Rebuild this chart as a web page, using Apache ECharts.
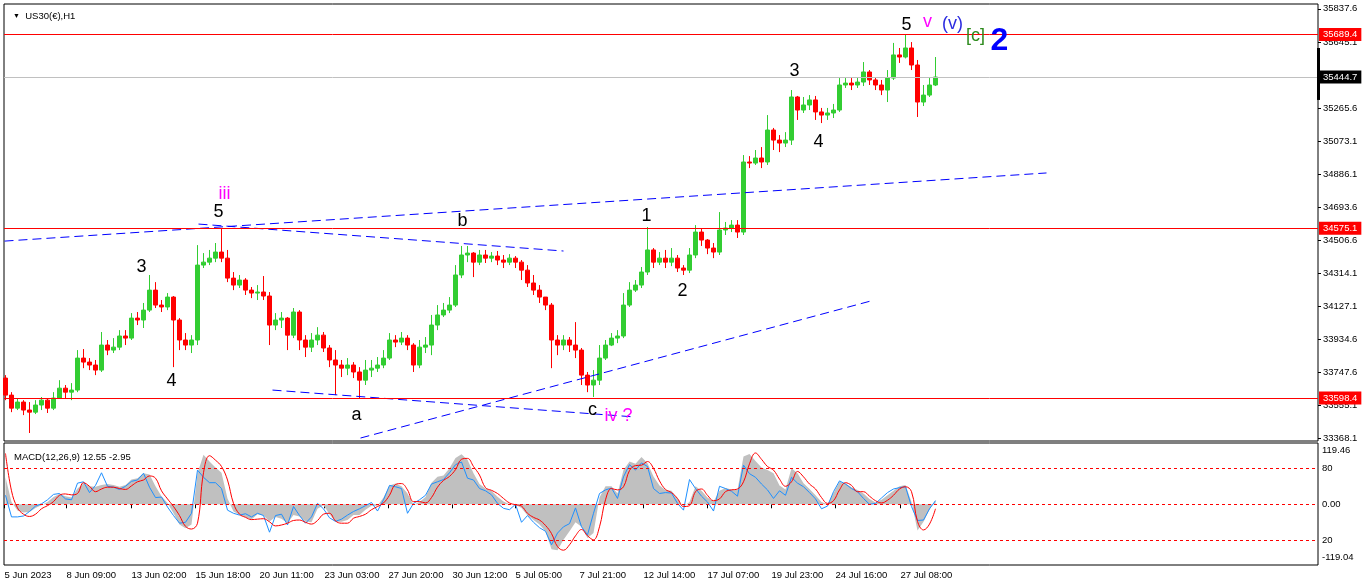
<!DOCTYPE html>
<html>
<head>
<meta charset="utf-8">
<script src="https://cdn.jsdelivr.net/npm/echarts@6/dist/echarts.min.js"></script>
<style>
  html, body { margin: 0; padding: 0; background: #fff; }
  #main { width: 1366px; height: 588px; }
</style>
</head>
<body>
<div id="main"></div>
<script>
var opens = [
  33713, 33615, 33540, 33575, 33529, 33517, 33558, 33586, 33540, 33598,
  33655, 33632, 33644, 33828, 33805, 33788, 33759, 33903, 33874, 33891,
  33955, 33943, 34058, 34047, 34104, 34219, 34133, 34122, 34179, 34047,
  33932, 33903, 33932, 34363, 34380, 34403, 34438, 34403, 34288, 34248,
  34277, 34219, 34202, 34208, 34185, 34018, 34047, 34058, 33960, 34093,
  33932, 33891, 33932, 33960, 33886, 33817, 33788, 33770, 33788, 33748,
  33701, 33759, 33770, 33788, 33828, 33932, 33920, 33943, 33903, 33788,
  33891, 33903, 34018, 34076, 34104, 34133, 34306, 34421, 34432, 34380,
  34421, 34403, 34415, 34392, 34380, 34403, 34380, 34334, 34260, 34219,
  34179, 34133, 33932, 33903, 33932, 33903, 33874, 33730, 33673, 33701,
  33828, 33903, 33943, 33955, 34133, 34219, 34248, 34323, 34450, 34380,
  34403, 34380, 34403, 34346, 34334, 34421, 34553, 34507, 34461, 34438,
  34565, 34576, 34593, 34553, 34956, 34950, 34979, 34956, 35140, 35082,
  35065, 35082, 35330, 35255, 35284, 35313, 35244, 35226, 35238, 35255,
  35399, 35410, 35399, 35416, 35474, 35428, 35399, 35370, 35439, 35572,
  35560, 35612, 35514, 35301, 35341, 35399
];
var closes = [
  33615, 33540, 33575, 33529, 33517, 33558, 33586, 33540, 33598, 33655,
  33632, 33644, 33828, 33805, 33788, 33759, 33903, 33874, 33891, 33955,
  33943, 34058, 34047, 34104, 34219, 34133, 34122, 34179, 34047, 33932,
  33903, 33932, 34363, 34380, 34403, 34438, 34403, 34288, 34248, 34277,
  34219, 34202, 34208, 34185, 34018, 34047, 34058, 33960, 34093, 33932,
  33891, 33932, 33960, 33886, 33817, 33788, 33770, 33788, 33748, 33701,
  33759, 33770, 33788, 33828, 33932, 33920, 33943, 33903, 33788, 33891,
  33903, 34018, 34076, 34104, 34133, 34306, 34421, 34432, 34380, 34421,
  34403, 34415, 34392, 34380, 34403, 34380, 34334, 34260, 34219, 34179,
  34133, 33932, 33903, 33932, 33903, 33874, 33730, 33673, 33701, 33828,
  33903, 33943, 33955, 34133, 34219, 34248, 34323, 34450, 34380, 34403,
  34380, 34403, 34346, 34334, 34421, 34553, 34507, 34461, 34438, 34565,
  34576, 34593, 34553, 34956, 34950, 34979, 34956, 35140, 35082, 35065,
  35082, 35330, 35255, 35284, 35313, 35244, 35226, 35238, 35255, 35399,
  35410, 35399, 35416, 35474, 35428, 35399, 35370, 35439, 35572, 35560,
  35612, 35514, 35301, 35341, 35399, 35445
];
var lows = [
  33586, 33517, 33529, 33500, 33397, 33506, 33529, 33512, 33529, 33598,
  33598, 33586, 33632, 33770, 33759, 33730, 33748, 33845, 33857, 33874,
  33903, 33932, 34018, 34001, 34093, 34116, 34093, 34104, 33776, 33874,
  33874, 33857, 33903, 34346, 34363, 34380, 34380, 34265, 34219, 34231,
  34191, 34173, 34162, 34162, 33903, 33989, 34001, 33874, 33943, 33874,
  33834, 33863, 33903, 33863, 33776, 33615, 33719, 33730, 33713, 33598,
  33673, 33719, 33748, 33770, 33817, 33891, 33903, 33874, 33748, 33770,
  33857, 33845, 33989, 34064, 34087, 34122, 34288, 34380, 34294, 34363,
  34375, 34380, 34363, 34346, 34363, 34346, 34277, 34237, 34191, 34145,
  34104, 33770, 33845, 33874, 33863, 33828, 33673, 33632, 33604, 33673,
  33817, 33897, 33914, 33943, 34122, 34208, 34231, 34306, 34346, 34363,
  34346, 34357, 34323, 34306, 34317, 34403, 34473, 34426, 34403, 34421,
  34536, 34553, 34519, 34536, 34921, 34939, 34921, 34939, 35025, 35013,
  35042, 35054, 35198, 35238, 35255, 35198, 35180, 35198, 35209, 35244,
  35382, 35370, 35382, 35393, 35399, 35370, 35341, 35301, 35428, 35526,
  35552, 35485, 35215, 35278, 35330, 35393
];
var highs = [
  33730, 33632, 33598, 33586, 33575, 33586, 33604, 33598, 33632, 33701,
  33673, 33684, 33874, 33880, 33828, 33817, 33978, 33932, 33943, 33989,
  33989, 34087, 34093, 34145, 34306, 34265, 34162, 34202, 34185, 34058,
  33972, 33960, 34478, 34432, 34450, 34490, 34576, 34450, 34323, 34306,
  34288, 34237, 34248, 34300, 34208, 34087, 34093, 34064, 34116, 34104,
  33960, 33972, 34006, 33978, 33903, 33874, 33817, 33828, 33805, 33776,
  33817, 33817, 33834, 33874, 33972, 33960, 33978, 33960, 33914, 33932,
  33949, 34076, 34133, 34145, 34179, 34363, 34473, 34473, 34438, 34450,
  34450, 34438, 34444, 34421, 34426, 34415, 34392, 34363, 34306, 34248,
  34179, 34145, 33960, 33960, 33949, 34035, 33886, 33748, 33759, 33903,
  33932, 33972, 33989, 34202, 34265, 34277, 34352, 34582, 34461, 34438,
  34450, 34461, 34421, 34363, 34461, 34593, 34576, 34513, 34490, 34668,
  34611, 34622, 34622, 34996, 34990, 35025, 35042, 35226, 35152, 35111,
  35128, 35370, 35336, 35330, 35341, 35336, 35267, 35267, 35290, 35439,
  35439, 35439, 35445, 35531, 35485, 35445, 35428, 35485, 35641, 35612,
  35692, 35646, 35543, 35399, 35439, 35560
];

// MACD(12,26,9) panel, same sampling
var macdHist = [
  60, 5, -14, -18, -17, -8, -2, 5, 16, 23,
  18, 15, 35, 47, 40, 39, 43, 45, 43, 39,
  43, 55, 58, 69, 66, 40, 18, 3, -20, -45,
  -53, -45, 69, 110, 95, 82, 70, 13, -16, -23,
  -29, -34, -22, -25, -38, -28, -32, -42, -24, -27,
  -38, -40, -10, -2, -22, -39, -39, -35, -24, -24,
  -12, -3, -3, 15, 42, 46, 40, 24, -1, 5,
  16, 48, 61, 64, 80, 103, 111, 99, 69, 45,
  35, 30, 17, 6, 0, -1, -8, -25, -35, -45,
  -60, -100, -102, -79, -60, -40, -50, -75, -64, 15,
  40, 40, 24, 76, 95, 90, 105, 91, 62, 42,
  32, 30, 13, -5, 5, 40, 30, 15, 6, 30,
  36, 33, 32, 106, 112, 96, 82, 76, 69, 42,
  33, 80, 69, 47, 34, 20, 5, 0, 25, 50,
  46, 38, 32, 24, 12, 4, 10, 20, 30, 40,
  43, 5, -58, -39, -12, 10
];
var macdSignal = [
  113, 30, -8, -22, -27, -22, -10, -3, 6, 20,
  23, 21, 24, 48, 40, 28, 34, 38, 38, 35,
  33, 41, 50, 54, 63, 58, 30, 12, -5, -25,
  -49, -55, -42, 70, 108, 98, 84, 54, 2, -22,
  -29, -34, -33, -32, -39, -48, -46, -42, -36, -35,
  -40, -44, -36, -22, -20, -37, -42, -42, -31, -27,
  -22, -12, -5, 3, 20, 44, 46, 32, 6, 6,
  3, 15, 38, 53, 62, 77, 100, 102, 84, 65,
  37, 31, 24, 13, 3, -1, -4, -20, -29, -35,
  -47, -65, -94, -102, -90, -70, -56, -70, -79, -50,
  10, 35, 32, 39, 75, 86, 87, 95, 80, 52,
  33, 26, 13, -5, -3, 28, 34, 20, 8, 12,
  28, 32, 34, 50, 90, 114, 100, 84, 76, 56,
  40, 50, 73, 61, 45, 34, 15, 2, 8, 32,
  48, 42, 28, 28, 18, 8, 3, 9, 20, 34,
  39, 28, -38, -57, -44, -10
];
var macdFast = [
  20, -28, -28, -26, -16, -4, 1, 10, 22, 24,
  12, 10, 47, 50, 26, 42, 70, 40, 38, 33,
  40, 51, 54, 69, 38, 15, 16, -6, -25, -42,
  -40, -20, 76, 60, 48, 48, 35, -13, -20, -24,
  -21, -28, -20, -25, -62, -25, -22, -46, -5, -25,
  -42, -28, 2, -10, -30, -38, -33, -24, -16, -10,
  -3, 4, -15, 10, 42, 39, 35, -20, 2, 10,
  20, 45, 50, 55, 70, 88, 94, 58, 54, 35,
  30, 21, 2, -9, -12, 0, -40, -25, -40, -52,
  -60, -90, -64, -50, -43, -8, -50, -68, -20, 24,
  32, 36, 13, 61, 88, 76, 92, 84, 35, 24,
  26, 25, 2, -13, 55, 35, 18, 5, -15, 40,
  35, 29, 18, 87, 68, 60, 45, 32, 13, 30,
  20, 60, 47, 39, 26, 12, -10, -4, 28, 52,
  45, 35, 28, 13, 0, 2, 14, 26, 34, 37,
  39, -5, -36, -35, -10, 8
];

var priceTicks = [35837.6, 35645.1, 35265.6, 35073.1, 34886.1, 34693.6, 34506.6,
  34314.1, 34127.1, 33934.6, 33747.6, 33555.1, 33368.1];
var levels = [35689.4, 34575.1, 33598.4];
var lastPrice = 35444.7;
var scaleBarRange = [35313, 35612];
var macdTickValues = [119.46, 80, 0, -80, -119.04];
var macdTickTexts = ['119.46', '80', '0.00', '20', '-119.04'];
var macdLevels = [80, 0, -80];

// hourly bar index of each time label
var dateBars = [0, 62, 127, 191, 255, 320, 384, 448, 511, 575, 639, 703, 767, 831, 896];
var dateLabels = ['5 Jun 2023', '8 Jun 09:00', '13 Jun 02:00', '15 Jun 18:00', '20 Jun 11:00',
  '23 Jun 03:00', '27 Jun 20:00', '30 Jun 12:00', '5 Jul 05:00', '7 Jul 21:00',
  '12 Jul 14:00', '17 Jul 07:00', '19 Jul 23:00', '24 Jul 16:00', '27 Jul 08:00'];

// wave counts: text, hourly bar, price, degree
var waves = [
  ['iii', 220, 34772, 'minor'],
  ['5', 214, 34670, 'minute'],
  ['3', 137, 34353, 'minute'],
  ['4', 167, 33696, 'minute'],
  ['a', 352, 33498, 'minute'],
  ['b', 458, 34616, 'minute'],
  ['c', 588, 33531, 'minute'],
  ['iv ?', 614, 33496, 'minor'],
  ['1', 642, 34647, 'minute'],
  ['2', 678, 34215, 'minute'],
  ['3', 790, 35481, 'minute'],
  ['4', 814, 35073, 'minute'],
  ['5', 902, 35746, 'minute'],
  ['v', 923, 35763, 'minor'],
  ['(v)', 948, 35750, 'intermediate'],
  ['[c]', 971, 35681, 'primary'],
  ['2', 995, 35653, 'cycle']
];

// dashed channel lines: bar0, price0, bar1, price1
var trendLines = [
  [0, 34501, 1042, 34893],
  [194, 34599, 559, 34444],
  [268, 33644, 631, 33489],
  [356, 33368, 866, 34156]
];

var FONT = '"Liberation Sans", Arial, sans-serif';
var BARS = 1314;
var STEP = 6;

var cats = [];
for (var i = 0; i < BARS; i++) cats.push(String(i));
function barOf(k) { return k * STEP + 1; }
function pairs(arr) { return arr.map(function (v, k) { return [barOf(k), v]; }); }

var candleData = opens.map(function (o, k) {
  return [barOf(k), o, closes[k], lows[k], highs[k]];
});

var dateAt = {};
dateBars.forEach(function (b, i) { dateAt[b] = dateLabels[i]; });
function isDateBar(i) { return dateAt[i] !== undefined; }

var waveStyle = {
  minute: { color: '#000000', fontSize: 18 },
  minor: { color: '#FF00FF', fontSize: 18 },
  intermediate: { color: '#2B2BE0', fontSize: 18 },
  primary: { color: '#2E8B1E', fontSize: 18 },
  cycle: { color: '#0000FF', fontSize: 32, fontWeight: 'bold' }
};

var levelLines = levels.map(function (v) {
  return {
    yAxis: v,
    lineStyle: { color: '#FF0000', width: 1, type: 'solid' },
    label: { backgroundColor: '#FF0000', color: '#FFFFFF' }
  };
});
levelLines.push({
  yAxis: lastPrice,
  lineStyle: { color: '#C0C0C0', width: 1, type: 'solid' },
  label: { backgroundColor: '#000000', color: '#FFFFFF' }
});

var series = [{
  type: 'candlestick',
  xAxisIndex: 0,
  yAxisIndex: 0,
  data: candleData,
  encode: { x: 0, y: [1, 2, 3, 4] },
  barWidth: 4,
  itemStyle: {
    color: '#32CD32', color0: '#FF0000',
    borderColor: '#32CD32', borderColor0: '#FF0000', borderWidth: 1
  },
  markLine: {
    symbol: 'none',
    silent: true,
    animation: false,
    label: {
      position: 'end',
      distance: 1,
      padding: [2, 4, 1, 4],
      fontSize: 9.5,
      fontFamily: FONT,
      formatter: function (p) { return Number(p.value).toFixed(1); }
    },
    data: levelLines
  }
}];

trendLines.forEach(function (t) {
  series.push({
    type: 'line',
    xAxisIndex: 0,
    yAxisIndex: 0,
    data: [[t[0], t[1]], [t[2], t[3]]],
    symbol: 'none',
    silent: true,
    lineStyle: { color: '#0000FF', width: 1, type: [9, 5] }
  });
});

series.push({
  type: 'scatter',
  xAxisIndex: 0,
  yAxisIndex: 0,
  symbolSize: 1,
  itemStyle: { color: 'rgba(255,255,255,0)' },
  silent: true,
  z: 5,
  data: waves.map(function (w) {
    var s = waveStyle[w[3]];
    return {
      value: [w[1], w[2]],
      label: {
        show: true,
        position: 'inside',
        formatter: w[0],
        color: s.color,
        opacity: 1,
        textBorderWidth: 0,
        fontSize: s.fontSize,
        fontWeight: s.fontWeight || 'normal',
        fontFamily: FONT
      }
    };
  })
});

series.push({
  type: 'line',
  xAxisIndex: 1,
  yAxisIndex: 1,
  data: pairs(macdHist),
  symbol: 'none',
  silent: true,
  lineStyle: { width: 0 },
  areaStyle: { color: '#C0C0C0', opacity: 1, origin: 0 },
  markLine: {
    symbol: 'none',
    silent: true,
    animation: false,
    label: { show: false },
    lineStyle: { color: '#FF0000', width: 1, type: [3, 3] },
    data: macdLevels.map(function (v) { return { yAxis: v }; })
  }
});
series.push({
  type: 'line',
  xAxisIndex: 1,
  yAxisIndex: 1,
  data: pairs(macdFast),
  symbol: 'none',
  silent: true,
  lineStyle: { color: '#1E90FF', width: 1 }
});
series.push({
  type: 'line',
  xAxisIndex: 1,
  yAxisIndex: 1,
  data: pairs(macdSignal),
  symbol: 'none',
  silent: true,
  smooth: 0.4,
  lineStyle: { color: '#FF0000', width: 1 }
});

var labelText = { color: '#000', fontSize: 9.5, fontFamily: FONT };

var option = {
  animation: false,
  backgroundColor: '#FFFFFF',
  title: [{
    text: '{t|▼}  US30(€),H1',
    left: 8, top: 6,
    textStyle: {
      fontSize: 9.5, fontWeight: 'normal', color: '#000', fontFamily: FONT,
      rich: { t: { fontSize: 7, color: '#000' } }
    }
  }, {
    text: 'MACD(12,26,9) 12.55 -2.95',
    left: 9, top: 447,
    textStyle: { fontSize: 9.5, fontWeight: 'normal', color: '#000', fontFamily: FONT }
  }],
  grid: [
    { left: 4, top: 4, width: 1314, height: 437, show: true, borderColor: '#000', borderWidth: 1 },
    { left: 4, top: 443, width: 1314, height: 122, show: true, borderColor: '#000', borderWidth: 1 }
  ],
  xAxis: [{
    type: 'category', gridIndex: 0, data: cats,
    axisLine: { show: false }, axisTick: { show: false },
    axisLabel: { show: false }, splitLine: { show: false }
  }, {
    type: 'category', gridIndex: 1, data: cats,
    axisLine: { show: false },
    axisTick: {
      show: true, alignWithLabel: true, interval: isDateBar, length: 4,
      lineStyle: { color: '#000' }
    },
    axisLabel: Object.assign({
      interval: isDateBar,
      align: 'left',
      margin: 5,
      formatter: function (v, i) { return dateAt[i] || ''; }
    }, labelText),
    splitLine: { show: false }
  }],
  yAxis: [{
    type: 'value', gridIndex: 0, position: 'right',
    min: 33351, max: 35865,
    splitLine: { show: false },
    axisLine: { show: false },
    axisTick: { show: true, customValues: priceTicks, length: 3, lineStyle: { color: '#000' } },
    axisLabel: Object.assign({
      customValues: priceTicks,
      margin: 5,
      formatter: function (v) { return Number(v).toFixed(1); }
    }, labelText)
  }, {
    type: 'value', gridIndex: 1, position: 'right',
    min: -134.9, max: 136.2,
    splitLine: { show: false },
    axisLine: { show: false },
    axisTick: { show: false },
    axisLabel: Object.assign({
      customValues: macdTickValues,
      margin: 4,
      formatter: function (v) {
        var i = macdTickValues.indexOf(Number(v));
        return i >= 0 ? macdTickTexts[i] : '';
      }
    }, labelText)
  }],
  series: series
};

var chart = echarts.init(document.getElementById('main'), null, { renderer: 'canvas' });
chart.setOption(option);

// MT4 range marker on the price scale
var yTop = chart.convertToPixel({ yAxisIndex: 0 }, scaleBarRange[1]);
var yBot = chart.convertToPixel({ yAxisIndex: 0 }, scaleBarRange[0]);
var xEdge = chart.convertToPixel({ xAxisIndex: 0 }, BARS - 1) + 0.5;
chart.setOption({
  graphic: [{
    type: 'rect',
    shape: { x: xEdge - 1, y: yTop, width: 3, height: yBot - yTop },
    style: { fill: '#000' },
    z: 100,
    silent: true
  }]
});
</script>
</body>
</html>
